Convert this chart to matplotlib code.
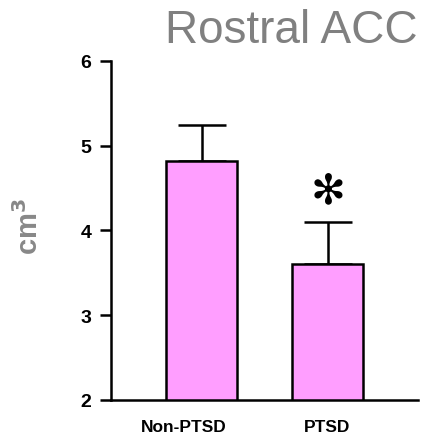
import matplotlib
matplotlib.use("Agg")
import matplotlib.pyplot as plt
import matplotlib.transforms as mtransforms

groups = ["Non-PTSD", "PTSD"]
means = [4.82, 3.60]
errors = [0.42, 0.50]
yticks = [2, 3, 4, 5, 6]

plt.rcParams["font.family"] = ["Liberation Sans", "DejaVu Sans"]

fig = plt.figure(figsize=(4.27, 4.39), dpi=100)
ax = fig.add_axes([0.26, 0.0866, 0.719, 0.7724])

x = range(len(groups))
ax.bar(x, means, width=0.563, bottom=0, color="#FF9EFF", edgecolor="black", linewidth=1.8, zorder=2)
ax.errorbar(x, means, yerr=[[0, 0], errors], fmt="none", ecolor="black",
            elinewidth=1.8, capsize=17.5, capthick=1.8, zorder=1)

ax.set_xlim(-0.718, 1.718)
ax.set_ylim(2, 6)
ax.set_yticks(yticks)
ax.set_yticklabels([str(t) for t in yticks], fontsize=14, fontweight="bold")
ax.set_xticks(list(x))
ax.set_xticklabels(groups, fontsize=12.5, fontweight="bold")
ax.tick_params(axis="x", length=0, pad=14)
ax.tick_params(axis="y", length=8, width=1.8, pad=6)

# first group label sits a bit left of its bar in the original
lbl = ax.get_xticklabels()[0]
lbl.set_transform(lbl.get_transform() + mtransforms.ScaledTranslation(-0.18, 0, fig.dpi_scale_trans))

for s in ["top", "right"]:
    ax.spines[s].set_visible(False)
ax.spines["left"].set_linewidth(1.8)
ax.spines["bottom"].set_linewidth(1.8)
ax.spines["left"].set_bounds(2, 6)

# significance marker above PTSD bar
ax.text(1, means[1] + errors[1] + 0.37, "\u273b", ha="center", va="center",
        fontsize=30, color="black", family=["DejaVu Sans"])

fig.text(0.979, 0.93, "Rostral ACC", ha="right", va="center", fontsize=33, color="#808080")
fig.text(0.068, 0.485, "cm$^\\mathbf{3}$", rotation=90, ha="center", va="center",
         fontsize=21, fontweight="bold", color="#888888")

fig.savefig("out.png", dpi=100)
